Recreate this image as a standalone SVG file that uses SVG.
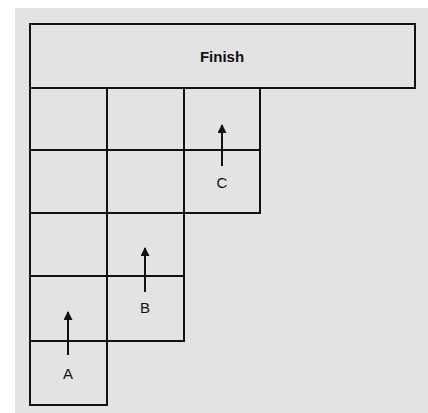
<svg xmlns="http://www.w3.org/2000/svg" width="428" height="413" viewBox="0 0 428 413">
<style>
.cell{fill:none;stroke:#111;stroke-width:2}
.lbl{font-family:"Liberation Sans",Arial,sans-serif;font-size:15px;fill:#111;text-anchor:middle}
.arr{stroke:#111;stroke-width:2;fill:none;marker-end:url(#ah)}
</style>
<defs>
<marker id="ah" viewBox="0 0 10 10" refX="9" refY="5" markerWidth="5" markerHeight="4.5" orient="auto" markerUnits="strokeWidth">
<path d="M0,0 L10,5 L0,10 Z" fill="#111"/>
</marker>
</defs>
<rect x="0" y="0" width="428" height="413" fill="#fff"/>
<rect x="15" y="8" width="413" height="405" fill="#e3e3e3"/>
<g id="finish">
<rect class="cell" x="30" y="24" width="385" height="64"/>
<text class="lbl" x="222" y="62" font-size="14" font-weight="bold">Finish</text>
</g>
<g id="grid">
<rect class="cell" x="30" y="88" width="77" height="62"/>
<rect class="cell" x="30" y="150" width="77" height="63"/>
<rect class="cell" x="30" y="213" width="77" height="63"/>
<rect class="cell" x="30" y="276" width="77" height="65"/>
<rect class="cell" x="30" y="341" width="77" height="64"/>
<rect class="cell" x="107" y="88" width="77" height="62"/>
<rect class="cell" x="107" y="150" width="77" height="63"/>
<rect class="cell" x="107" y="213" width="77" height="63"/>
<rect class="cell" x="107" y="276" width="77" height="65"/>
<rect class="cell" x="184" y="88" width="76" height="62"/>
<rect class="cell" x="184" y="150" width="76" height="63"/>
</g>
<g id="connectors">
<line class="arr" x1="222" y1="166" x2="222" y2="125"/>
<line class="arr" x1="145" y1="292" x2="145" y2="248"/>
<line class="arr" x1="68" y1="355" x2="68" y2="312"/>
</g>
<g id="labels">
<text class="lbl" x="222" y="188">C</text>
<text class="lbl" x="145" y="313">B</text>
<text class="lbl" x="68" y="379">A</text>
</g>
</svg>
